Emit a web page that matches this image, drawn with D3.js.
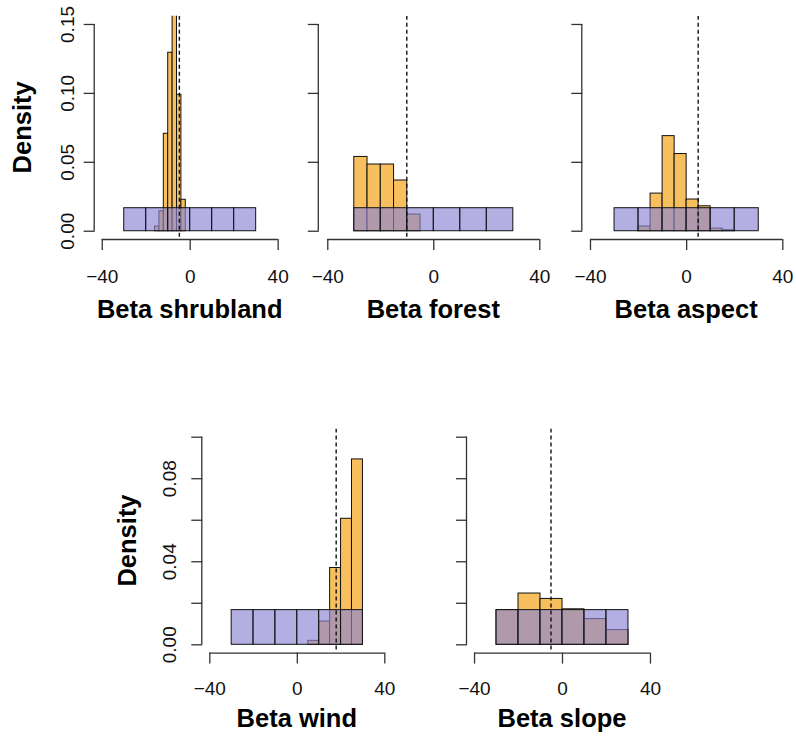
<!DOCTYPE html>
<html>
<head>
<meta charset="utf-8">
<script src="https://cdn.jsdelivr.net/npm/d3@7"></script>
<style>
  html, body { margin: 0; padding: 0; background: #fff; }
  svg { display: block; font-family: "Liberation Sans", Arial, Helvetica, sans-serif; }
</style>
</head>
<body>
<svg id="chart" width="796" height="738"></svg>
<script>
// Posterior histograms (orange): bin breaks and densities per parameter
const panelTitles = ["Beta shrubland", "Beta forest", "Beta aspect", "Beta wind", "Beta slope"];

const shrublandBreaks = [-16, -14, -12, -10, -8, -6, -4, -2];
const shrublandDensity = [0.0034, 0.0145, 0.0707, 0.1295, 0.160, 0.099, 0.0228];

const forestBreaks = [-30, -25, -20, -15, -10, -5];
const forestDensity = [0.0539, 0.0484, 0.0484, 0.0368, 0.0121];

const aspectBreaks = [-20, -15, -10, -5, 0, 5, 10, 15, 20];
const aspectDensity = [0.0034, 0.0273, 0.069, 0.056, 0.023, 0.0181, 0.0019, 0.0007];

const windBreaks = [5, 10, 15, 20, 25, 30];
const windDensity = [0.0019, 0.0112, 0.037, 0.0607, 0.0893];

const slopeBreaks = [-30, -20, -10, 0, 10, 20, 30];
const slopeDensity = [0.0167, 0.0247, 0.0221, 0.0171, 0.0124, 0.0071];

// Uniform prior histogram (blue), shared by every parameter
const priorBreaks = [-30, -20, -10, 0, 10, 20, 30];
const priorDensity = [0.0167, 0.0167, 0.0167, 0.0167, 0.0167, 0.0167];

// True simulated values (dashed lines)
const trueValues = [-4.7, -10, 5, 18, -5];

// Axis ticks
const xTicks = [-40, 0, 40];
const xLimits = [-40, 40];
const yTicksTop = [0, 0.05, 0.10, 0.15];
const yLabelsTop = [0, 0.05, 0.10, 0.15];
const yLimitsTop = [0, 0.15];
const yTicksBottom = [0, 0.02, 0.04, 0.06, 0.08, 0.10];
const yLabelsBottom = [0, 0.04, 0.08];
const yLimitsBottom = [0, 0.10];

const posteriors = [
  [shrublandBreaks, shrublandDensity],
  [forestBreaks, forestDensity],
  [aspectBreaks, aspectDensity],
  [windBreaks, windDensity],
  [slopeBreaks, slopeDensity]
];

// Plot-region boxes and per-row text offsets
const rowStyle = {
  top:    { y0: 15.7, y1: 239.0, ylim: yLimitsTop, yTicks: yTicksTop, yLabels: yLabelsTop, fmt: ".2f",
            xLabOff: 43.5, titleOff: 79, yLabOff: 21, densOff: 64 },
  bottom: { y0: 428.4, y1: 652.6, ylim: yLimitsBottom, yTicks: yTicksBottom, yLabels: yLabelsBottom, fmt: ".2f",
            xLabOff: 42, titleOff: 74.5, yLabOff: 26, densOff: 66 }
};
const panels = [
  { x0: 94.7,  x1: 284.7, row: "top",    yAxisLabels: true },
  { x0: 318.8, x1: 547.8, row: "top",    yAxisLabels: false },
  { x0: 582.3, x1: 790.0, row: "top",    yAxisLabels: false },
  { x0: 202.3, x1: 391.3, row: "bottom", yAxisLabels: true },
  { x0: 467.0, x1: 657.0, row: "bottom", yAxisLabels: false }
];

const orangeFill = "#F8BF5E";
const blueFill = "rgba(140,134,212,0.66)";
const axisColor = "#333";
const tickLen = 11;
const tickFont = 19;
const titleFont = 25.5;

const svg = d3.select("#chart");

function toBins(breaks, dens) {
  return dens.map((d, i) => ({ x0: breaks[i], x1: breaks[i + 1], d: d }));
}

panels.forEach((p, i) => {
  const r = rowStyle[p.row];
  const xr = xLimits[1] - xLimits[0];
  const yr = r.ylim[1] - r.ylim[0];
  // R-style 4% axis extension
  const x = d3.scaleLinear()
    .domain([xLimits[0] - 0.04 * xr, xLimits[1] + 0.04 * xr])
    .range([p.x0, p.x1]);
  const y = d3.scaleLinear()
    .domain([r.ylim[0] - 0.04 * yr, r.ylim[1] + 0.04 * yr])
    .range([r.y1, r.y0]);

  const g = svg.append("g");
  const clipId = "clip" + i;
  g.append("clipPath").attr("id", clipId)
    .append("rect")
    .attr("x", p.x0).attr("y", r.y0)
    .attr("width", p.x1 - p.x0).attr("height", r.y1 - r.y0);

  const plot = g.append("g").attr("clip-path", `url(#${clipId})`);

  // posterior bars
  plot.selectAll("rect.post")
    .data(toBins(posteriors[i][0], posteriors[i][1]))
    .join("rect")
    .attr("class", "post")
    .attr("x", d => x(d.x0))
    .attr("y", d => y(d.d))
    .attr("width", d => x(d.x1) - x(d.x0))
    .attr("height", d => y(0) - y(d.d))
    .attr("fill", orangeFill)
    .attr("stroke", "#111")
    .attr("stroke-width", 1);

  // prior bars, translucent on top
  plot.selectAll("rect.prior")
    .data(toBins(priorBreaks, priorDensity))
    .join("rect")
    .attr("class", "prior")
    .attr("x", d => x(d.x0))
    .attr("y", d => y(d.d))
    .attr("width", d => x(d.x1) - x(d.x0))
    .attr("height", d => y(0) - y(d.d))
    .attr("fill", blueFill)
    .attr("stroke", "#111")
    .attr("stroke-width", 1);

  // true value
  plot.append("line")
    .attr("x1", x(trueValues[i])).attr("x2", x(trueValues[i]))
    .attr("y1", r.y0).attr("y2", r.y1)
    .attr("stroke", "#111")
    .attr("stroke-width", 1.4)
    .attr("stroke-dasharray", "4,3");

  // x axis
  const xAxis = d3.axisBottom(x)
    .tickValues(xTicks)
    .tickSize(tickLen)
    .tickSizeOuter(0)
    .tickFormat(d3.format("d"));
  const gx = g.append("g")
    .attr("transform", `translate(0,${r.y1})`)
    .call(xAxis);
  gx.select(".domain").remove();
  gx.append("line")
    .attr("x1", x(xLimits[0])).attr("x2", x(xLimits[1]))
    .attr("y1", 0.5).attr("y2", 0.5)
    .attr("stroke", axisColor).attr("stroke-width", 1.3);
  gx.selectAll(".tick line").attr("stroke", axisColor).attr("stroke-width", 1.3);
  gx.selectAll(".tick text")
    .attr("y", r.xLabOff).attr("dy", 0)
    .attr("font-size", tickFont)
    .attr("font-family", "Liberation Sans, Arial, sans-serif")
    .attr("fill", "#111");

  // y axis
  const yAxis = d3.axisLeft(y)
    .tickValues(r.yTicks)
    .tickSize(tickLen)
    .tickSizeOuter(0)
    .tickFormat(d => (p.yAxisLabels && r.yLabels.some(v => Math.abs(v - d) < 1e-9)) ? d3.format(r.fmt)(d) : "");
  const gy = g.append("g")
    .attr("transform", `translate(${p.x0},0)`)
    .call(yAxis);
  gy.select(".domain").remove();
  gy.append("line")
    .attr("x1", -0.5).attr("x2", -0.5)
    .attr("y1", y(r.ylim[0])).attr("y2", y(r.yTicks[r.yTicks.length - 1]))
    .attr("stroke", axisColor).attr("stroke-width", 1.3);
  gy.selectAll(".tick line").attr("stroke", axisColor).attr("stroke-width", 1.3);
  gy.selectAll(".tick text")
    .attr("x", null).attr("dy", 0)
    .attr("transform", `translate(${-r.yLabOff},0) rotate(-90)`)
    .attr("text-anchor", "middle")
    .attr("font-size", tickFont)
    .attr("font-family", "Liberation Sans, Arial, sans-serif")
    .attr("fill", "#111");

  // x title
  g.append("text")
    .attr("x", (p.x0 + p.x1) / 2)
    .attr("y", r.y1 + r.titleOff)
    .attr("text-anchor", "middle")
    .attr("font-size", titleFont)
    .attr("font-weight", "bold")
    .attr("fill", "#000")
    .text(panelTitles[i]);

  // y title
  if (p.yAxisLabels) {
    const cy = (r.y0 + r.y1) / 2;
    const cx = p.x0 - r.densOff;
    g.append("text")
      .attr("transform", `translate(${cx},${cy}) rotate(-90)`)
      .attr("text-anchor", "middle")
      .attr("font-size", titleFont)
      .attr("font-weight", "bold")
      .attr("fill", "#000")
      .text("Density");
  }
});
</script>
</body>
</html>
